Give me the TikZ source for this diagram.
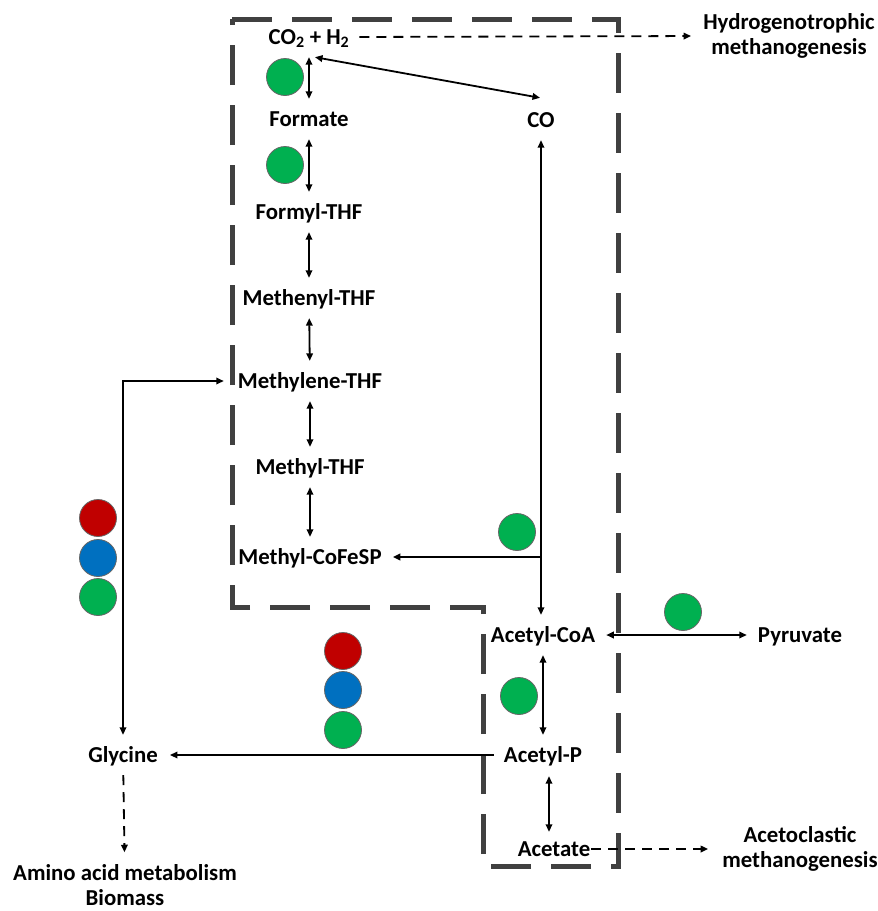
\documentclass[tikz,border=0pt]{standalone}
\usepackage{fontspec}
\setmainfont{Carlito}
\usetikzlibrary{arrows.meta,calc}
\definecolor{cred}{HTML}{C00000}
\definecolor{cblue}{HTML}{0070C0}
\definecolor{cgreen}{HTML}{00B050}
\definecolor{boxgray}{HTML}{404040}
\begin{document}
\begin{tikzpicture}[x=1pt,y=-1pt,
  lbl/.style={font=\bfseries\fontsize{22.8}{26.5}\selectfont, inner sep=0pt, text height=17pt, text depth=3pt},
  lbltwo/.style={font=\bfseries\fontsize{22.8}{25}\selectfont, inner sep=0pt, align=center},
  conn/.style={line width=1.8pt, draw=black},
  dbl/.style={conn, {Triangle[length=7.5pt,width=6.5pt]}-{Triangle[length=7.5pt,width=6.5pt]}},
  one/.style={conn, -{Triangle[length=7.5pt,width=6.5pt]}},
  dsh/.style={conn, -{Triangle[length=7.5pt,width=6.5pt]}, dash pattern=on 10pt off 7pt},
  vs/.style={shorten <=10pt, shorten >=10pt},
  enz/.style={circle, minimum size=37pt, inner sep=0pt, draw=black!60, line width=0.8pt},
  boxline/.style={draw=boxgray, line width=5pt, dash pattern=on 40pt off 20pt}
]
\useasboundingbox (0,0) rectangle (878,911);

% dashed compartment
\draw[boxline] (232,19) -- (618,19) -- (618,866) -- (483,866) -- (483,607) -- (232,607) -- cycle;

% metabolites
\node[lbl] (co2) at (309,37) {CO\textsubscript{2} + H\textsubscript{2}};
\node[lbl] (formate) at (309,119) {Formate};
\node[lbl] (formyl) at (309,212) {Formyl-THF};
\node[lbl] (methenyl) at (309,298) {Methenyl-THF};
\node[lbl] (methylene) at (310,381) {Methylene-THF};
\node[lbl] (methyl) at (310,467) {Methyl-THF};
\node[lbl] (cofesp) at (310,557) {Methyl-CoFeSP};
\node[lbl] (co) at (541,120) {CO};
\node[lbl] (acoa) at (543,635) {Acetyl-CoA};
\node[lbl] (ap) at (543,755) {Acetyl-P};
\node[lbl] (acetate) at (554,849) {Acetate};
\node[lbl] (pyr) at (800,635) {Pyruvate};
\node[lbl] (gly) at (123,755) {Glycine};
\node[lbltwo] (amino) at (125,885) {Amino acid metabolism\\Biomass};
\node[lbltwo] (hydro) at (789,36) {Hydrogenotrophic\\methanogenesis};
\node[lbltwo] (aceto) at (800,849) {Acetoclastic\\methanogenesis};

% connectors
\draw[dbl,vs] (co2) -- (formate);
\draw[dbl,vs] (formate) -- (formyl);
\draw[dbl,vs] (formyl) -- (methenyl);
\draw[dbl,vs] (methenyl) -- (methylene);
\draw[dbl,vs] (methylene) -- (methyl);
\draw[dbl,vs] (methyl) -- (cofesp);
\draw[dbl] ($(co2.south)+(6,10)$) -- ($(co.north)+(-1,-12)$);
\draw[dsh, shorten <=10pt, shorten >=12pt] (co2.east) -- (hydro.west);
\draw[dbl, vs] (co.south) -- (co.south |- acoa.north);
\coordinate (br) at (co.south |- cofesp);
\draw[one, shorten >=11pt] (br) -- (cofesp.east);
\draw[dbl, shorten <=11pt, shorten >=11pt] (acoa) -- (pyr);
\draw[dbl,vs] (acoa) -- (ap);
\draw[dbl, shorten <=11pt, shorten >=7pt] ([xshift=6pt]ap.south) -- ([xshift=-5pt]acetate.north);
\draw[dsh, shorten <=1pt, shorten >=14pt] (acetate) -- (aceto);
\draw[one, shorten <=10pt, shorten >=12pt] (ap) -- (gly);
\draw[dbl, shorten <=14pt, shorten >=10pt] (methylene.west) -| (gly.north);
\draw[dsh, shorten <=10pt, shorten >=12pt] (gly) -- (amino);

% enzyme markers
\node[enz, fill=cgreen] (e1) at (285,77) {};
\node[enz, fill=cgreen] (e2) at (285,165) {};
\node[enz, fill=cgreen] (e3) at (517,532) {};
\node[enz, fill=cgreen] (e4) at (683,612) {};
\node[enz, fill=cgreen] (e5) at (519,696) {};
\node[enz, fill=cred] (l1) at (98,518) {};
\node[enz, fill=cblue] (l2) at (98,558) {};
\node[enz, fill=cgreen] (l3) at (98,597) {};
\node[enz, fill=cred] (m1) at (343,651) {};
\node[enz, fill=cblue] (m2) at (343,690) {};
\node[enz, fill=cgreen] (m3) at (343,730) {};
\end{tikzpicture}
\end{document}
